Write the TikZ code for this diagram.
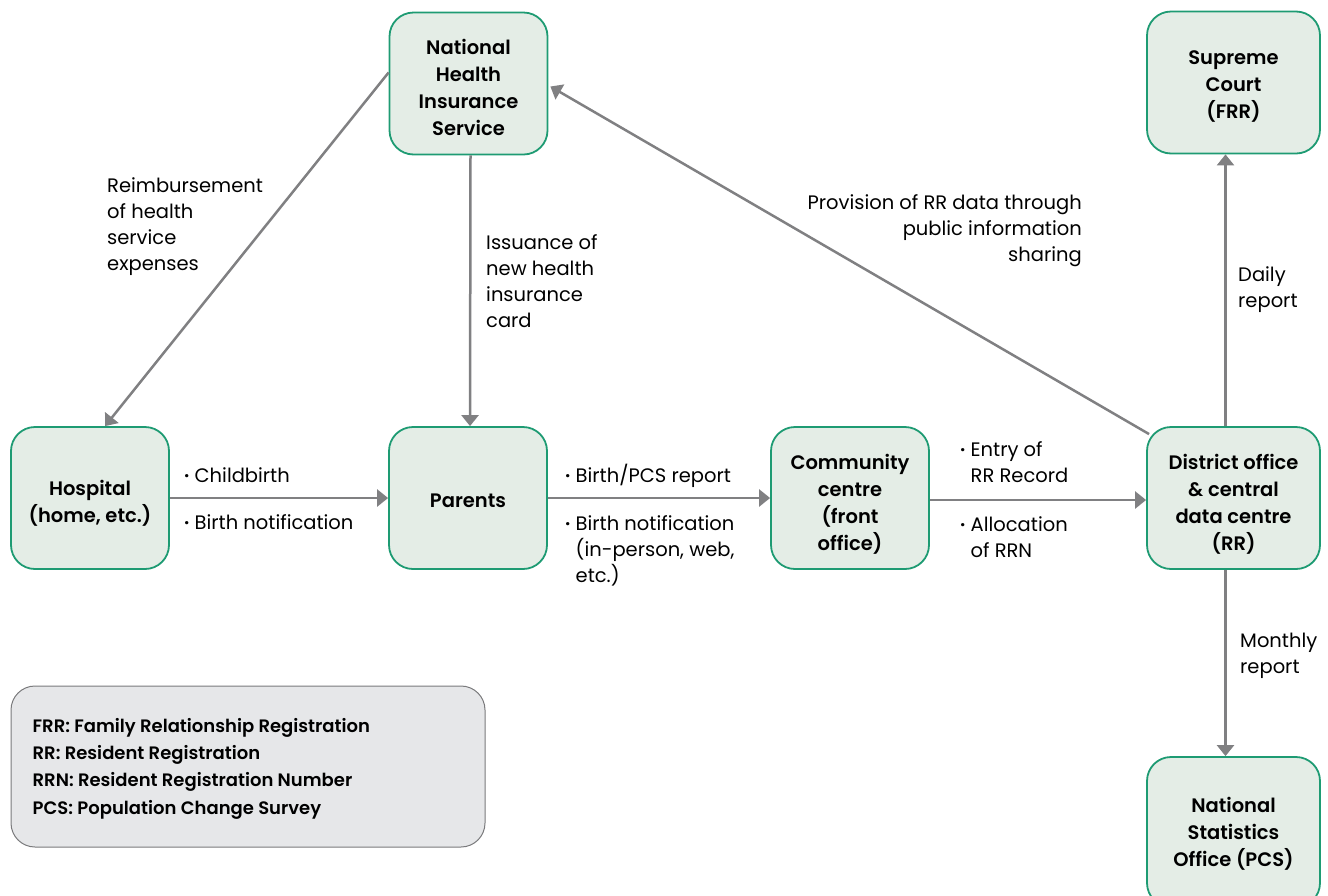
\documentclass[tikz,border=0pt]{standalone}
\usepackage{fontspec}
\setmainfont{Poppins}[BoldFont={Poppins SemiBold}]
\usetikzlibrary{arrows.meta,calc}
\definecolor{boxfill}{HTML}{E4EDE6}
\definecolor{boxdraw}{HTML}{1E9B73}
\definecolor{arr}{HTML}{808082}
\definecolor{legfill}{HTML}{E6E7E9}
\definecolor{legdraw}{HTML}{7A7A7C}
\newcommand{\bul}{{\bfseries ·}\ }
\newcommand{\bulsp}{\phantom{\bul}}
\begin{document}
\begin{tikzpicture}[x=1pt,y=-1pt,
  every node/.style={font=\fontsize{19.5}{26}\selectfont, inner sep=0pt},
  entity/.style={draw=boxdraw, fill=boxfill, line width=1.8pt, rounded corners=24pt,
     minimum width=158pt, minimum height=142pt},
  etext/.style={align=center, font=\fontsize{19.5}{27}\selectfont\bfseries},
  wide/.style={minimum width=173pt},
  flow/.style={draw=arr, line width=2.5pt, -{Triangle[length=11pt,width=17pt]}},
  lbl/.style={align=left, anchor=north west},
  lblr/.style={align=right, anchor=north east}]
\useasboundingbox (0,0) rectangle (1328,895);
\node[entity] (nhis) at (468.5,83.5) {};
\node[etext] (nhis-t) at ([yshift=-4pt]nhis.center) {National\\Health\\Insurance\\Service};
\node[entity,wide] (sup) at (1233.5,82.5) {};
\node[etext] (sup-t) at ([yshift=-4pt]sup.center) {Supreme\\Court\\(FRR)};
\node[entity] (hosp) at (90,498) {};
\node[etext] (hosp-t) at ([yshift=-5pt]hosp.center) {Hospital\\(home, etc.)};
\node[entity] (par) at (468,498) {};
\node[etext] (par-t) at ([yshift=-3pt]par.center) {Parents};
\node[entity] (com) at (850,498) {};
\node[etext] (com-t) at ([yshift=-6pt]com.center) {Community\\centre\\(front\\office)};
\node[entity,wide] (dist) at (1233.5,498) {};
\node[etext] (dist-t) at ([yshift=-6pt]dist.center) {District office\\\& central\\data centre\\(RR)};
\node[entity,wide,minimum height=150pt] (nso) at (1233.5,832) {};
\node[etext] (nso-t) at ([yshift=-2pt]nso.center) {National\\Statistics\\Office (PCS)};
\node[draw=legdraw, fill=legfill, line width=1pt, rounded corners=24pt, minimum width=474pt, minimum height=161pt] (leg) at (248,766.5) {};
\node[align=left, anchor=west, font=\fontsize{18}{27.3}\selectfont\bfseries] (leg-t) at ([xshift=22pt,yshift=-2pt]leg.west)
  {FRR: Family Relationship Registration\\RR: Resident Registration\\RRN: Resident Registration Number\\PCS: Population Change Survey};

\draw[flow] ([yshift=11pt]nhis.west) -- ([xshift=15pt]hosp.north);
\draw[flow] ([xshift=2pt]nhis.south) -- ([xshift=2pt]par.north);
\draw[flow] ([xshift=3pt,yshift=-8pt]dist.north west) -- ([xshift=2pt,yshift=-3pt]nhis.east);
\draw[flow] ([xshift=-8pt]dist.north) -- ([xshift=-8pt]sup.south);
\draw[flow] (hosp.east) -- (par.west);
\draw[flow] (par.east) -- (com.west);
\draw[flow] ([yshift=-2pt]com.east) -- ([yshift=-2pt]dist.west);
\draw[flow] ([xshift=-8pt]dist.south) -- ([xshift=-8pt]nso.north);

\node[lbl] (l1) at (107,177) {Reimbursement\\of health\\service\\expenses};
\node[lbl] (l2) at (486,234) {Issuance of\\new health\\insurance\\card};
\node[lblr] (l3) at (1082,194) {Provision of RR data through\\public information\\sharing};
\node[lbl] (l4) at (1238,266) {Daily\\report};
\node[lbl] (l5) at (1240,633) {Monthly\\report};
\node[lbl] (l6) at (184,467) {\bul Childbirth};
\node[lbl] (l7) at (184,514) {\bul Birth notification};
\node[lbl] (l8) at (565,464) {\bul Birth/PCS report};
\node[lbl] (l9) at (565,515) {\bul Birth notification\\\bulsp(in-person, web,\\\bulsp etc.)};
\node[lbl] (l10) at (960,441) {\bul Entry of\\\bulsp RR Record};
\node[lbl] (l11) at (960,516) {\bul Allocation\\\bulsp of RRN};
\end{tikzpicture}
\end{document}
